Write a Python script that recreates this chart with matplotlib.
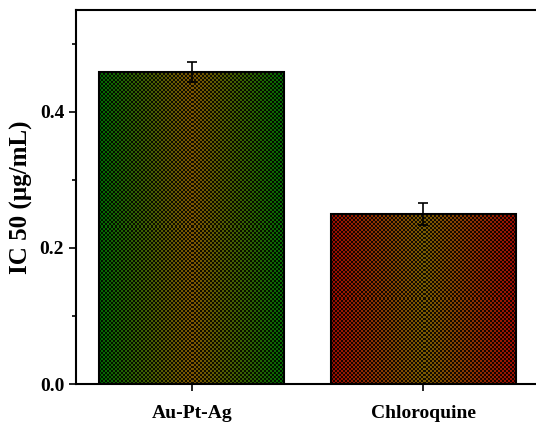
import numpy as np
import matplotlib
matplotlib.use('Agg')
import matplotlib.pyplot as plt
from matplotlib.patches import Rectangle
from matplotlib.ticker import MultipleLocator

# data
samples = ['Au-Pt-Ag', 'Chloroquine']
ic50 = [0.459, 0.250]
ic50_err = [0.015, 0.016]

# gradient colours (edge -> centre) of each bar
edge_colors = [(0.0, 0.42, 0.0), (0.62, 0.05, 0.0)]
centre_colors = [(0.50, 0.34, 0.0), (0.48, 0.36, 0.0)]

plt.rcParams['font.family'] = ['Liberation Serif', 'DejaVu Serif']
plt.rcParams['font.weight'] = 'bold'

fig = plt.figure(figsize=(5.36, 4.23), dpi=100)
ax = fig.add_axes([76 / 536, 39 / 423, 463 / 536, 374 / 423])

x = np.arange(len(samples))
width = 0.8
ax.set_xlim(-0.5, 1.5)
ax.set_ylim(0, 0.55)

# pixels per data unit, so the checker pattern lands on screen pixels
px_x = 463 / 2.0
px_y = 374 / 0.55

for i in range(len(samples)):
    left = x[i] - width / 2
    ncol = int(round(width * px_x))
    nrow = int(round(ic50[i] * px_y))
    t = np.abs(np.linspace(-1, 1, ncol))  # 0 at centre, 1 at edges
    e = np.array(edge_colors[i])
    c = np.array(centre_colors[i])
    row = c[None, :] * (1 - t[:, None]) + e[None, :] * t[:, None]
    img = np.repeat(row[None, :, :], nrow, axis=0)
    # checkerboard of dark cells
    yy, xx = np.mgrid[0:nrow, 0:ncol]
    checker = ((xx // 2 + yy // 2) % 2) == 0
    img[checker] = img[checker] * 0.15
    ax.imshow(img, extent=(left, left + width, 0, ic50[i]), aspect='auto',
              interpolation='nearest', origin='lower', zorder=1)
    ax.add_patch(Rectangle((left, 0), width, ic50[i], fill=False,
                           edgecolor='black', linewidth=1.5, zorder=2))

ax.errorbar(x, ic50, yerr=ic50_err, fmt='none', ecolor='black',
            elinewidth=1.2, capsize=3.5, capthick=1.2, zorder=3)

ax.set_xticks(x)
ax.set_xticklabels(samples, fontsize=14, fontweight='bold')
ax.set_yticks([0.0, 0.2, 0.4])
ax.set_yticklabels(['0.0', '0.2', '0.4'], fontsize=14, fontweight='bold')
ax.yaxis.set_minor_locator(MultipleLocator(0.1))
ax.tick_params(axis='both', which='major', direction='out', length=5, width=1.2)
ax.tick_params(axis='y', which='minor', direction='out', length=3, width=1.2)
ax.tick_params(axis='x', pad=10)
ax.set_ylabel('IC 50 (µg/mL)', fontsize=18, fontweight='bold', labelpad=5)

for s in ax.spines.values():
    s.set_linewidth(1.5)

ax.set_xlim(-0.5, 1.5)
ax.set_ylim(0, 0.55)

fig.savefig('out.png', dpi=100)
